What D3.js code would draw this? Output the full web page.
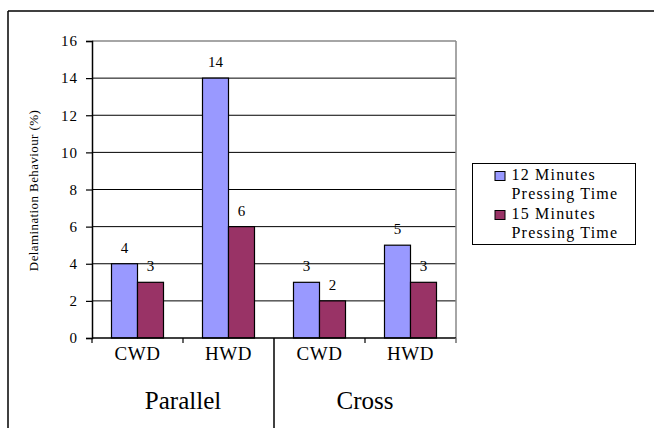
<!DOCTYPE html>
<html>
<head>
<meta charset="utf-8">
<script src="https://cdn.jsdelivr.net/npm/d3@7"></script>
<style>
  body { margin: 0; background: #fff; }
</style>
</head>
<body>
<div id="chart"></div>
<script>
// datos
const groups = ["Parallel", "Cross"]
const woods = ["CWD", "HWD"]
const series = ["12 Minutes Pressing Time", "15 Minutes Pressing Time"]
const values12 = [4, 14, 3, 5]
const values15 = [3, 6, 2, 3]
const yTicks = [0, 2, 4, 6, 8, 10, 12, 14, 16]
const colors = ["#9999FF", "#993366"]

const width = 654
const height = 428
const margin = { top: 41, right: 198, bottom: 90, left: 92 }
const serif = "'Liberation Serif', 'Times New Roman', Times, serif"

const svg = d3.select("#chart").append("svg").attr("width", width).attr("height", height)
  .style("font-family", serif)

// categorias (grupo + madera)
const cats = []
groups.forEach(g => woods.forEach(w => cats.push({ group: g, wood: w, key: g + "-" + w })))
cats.forEach((c, i) => { c.v = [values12[i], values15[i]] })

// escalas
const x0 = d3.scaleBand().domain(cats.map(d => d.key)).range([margin.left, width - margin.right]).padding(0)
const x1 = d3.scaleBand().domain(series).range([0, x0.bandwidth()]).paddingInner(0).paddingOuter(0.75)
const y = d3.scaleLinear().domain([0, 16]).range([height - margin.bottom, margin.top])

const x0r = width - margin.right
const yb = height - margin.bottom

function txt(sel, size) {
  return sel.style("font-family", serif).style("font-size", size + "px").attr("fill", "#000")
}

// marco exterior
svg.append("line").attr("x1", 8).attr("x2", width).attr("y1", 11).attr("y2", 11)
  .attr("stroke", "#000").attr("stroke-width", 1.5)
svg.append("line").attr("x1", 8).attr("x2", 8).attr("y1", 11).attr("y2", height)
  .attr("stroke", "#000").attr("stroke-width", 1.5)

// rejilla
svg.append("g").selectAll("line").data(yTicks.filter(t => t > 0 && t < 16)).join("line")
  .attr("x1", margin.left).attr("x2", x0r)
  .attr("y1", d => y(d)).attr("y2", d => y(d))
  .attr("stroke", "#000").attr("stroke-width", 1)
svg.append("line").attr("x1", margin.left).attr("x2", x0r).attr("y1", y(16)).attr("y2", y(16))
  .attr("stroke", "#888").attr("stroke-width", 1.5)
svg.append("line").attr("x1", x0r).attr("x2", x0r).attr("y1", y(16)).attr("y2", yb + 5)
  .attr("stroke", "#888").attr("stroke-width", 1.5)

// barras
const barG = svg.append("g")
cats.forEach(c => {
  series.forEach((s, j) => {
    barG.append("rect")
      .attr("x", x0(c.key) + x1(s))
      .attr("y", y(c.v[j]))
      .attr("width", x1.bandwidth())
      .attr("height", yb - y(c.v[j]))
      .attr("fill", colors[j])
      .attr("stroke", "#000").attr("stroke-width", 1.2)
    barG.append("text")
      .attr("x", x0(c.key) + x1(s) + x1.bandwidth() / 2)
      .attr("y", y(c.v[j]) - 11)
      .attr("text-anchor", "middle")
      .call(txt, 15)
      .text(c.v[j])
  })
})

// eje y
const yAxis = d3.axisLeft(y).tickValues(yTicks).tickSize(6).tickPadding(8)
const yAxisGroup = svg.append("g").attr("transform", `translate(${margin.left},0)`).call(yAxis)
  .attr("font-family", null).attr("font-size", null)
yAxisGroup.select(".domain").attr("stroke", "#000").attr("stroke-width", 1.5)
yAxisGroup.selectAll(".tick line").attr("stroke", "#000").attr("stroke-width", 1.2)
yAxisGroup.selectAll(".tick text").call(txt, 15).attr("letter-spacing", 1)

// eje x
svg.append("line").attr("x1", margin.left).attr("x2", x0r).attr("y1", yb).attr("y2", yb)
  .attr("stroke", "#000").attr("stroke-width", 1.5)
const bounds = cats.map(c => x0(c.key)).concat([x0r])
svg.append("g").selectAll("line").data(bounds.filter((b, i) => i !== 2)).join("line")
  .attr("x1", d => d).attr("x2", d => d).attr("y1", yb).attr("y2", yb + 5)
  .attr("stroke", (d, i) => i === 3 ? "#888" : "#000").attr("stroke-width", 1.2)

// separador de grupos
svg.append("line").attr("x1", bounds[2]).attr("x2", bounds[2]).attr("y1", yb).attr("y2", height)
  .attr("stroke", "#000").attr("stroke-width", 1.5)

// etiquetas de categoria
svg.append("g").selectAll("text").data(cats).join("text")
  .attr("x", d => x0(d.key) + x0.bandwidth() / 2)
  .attr("y", yb + 22)
  .attr("text-anchor", "middle")
  .call(txt, 19).attr("letter-spacing", 0.5)
  .text(d => d.wood)

// etiquetas de grupo
svg.append("g").selectAll("text").data(groups).join("text")
  .attr("x", g => {
    const ks = cats.filter(c => c.group === g).map(c => c.key)
    return (x0(ks[0]) + x0(ks[ks.length - 1]) + x0.bandwidth()) / 2
  })
  .attr("y", yb + 71)
  .attr("text-anchor", "middle")
  .call(txt, 25)
  .text(g => g)

// titulo eje y
svg.append("text")
  .attr("transform", `translate(38,${(y(0) + y(16)) / 2 + 1}) rotate(-90)`)
  .attr("text-anchor", "middle")
  .call(txt, 13)
  .attr("letter-spacing", 0.4)
  .text("Delamination Behaviour (%)")

// leyenda
const legend = svg.append("g").attr("transform", "translate(472,163)")
legend.append("rect").attr("x", 0.5).attr("y", 0.5).attr("width", 163).attr("height", 81)
  .attr("fill", "#fff").attr("stroke", "#000").attr("stroke-width", 1)
series.forEach((s, j) => {
  const words = s.split(" ")
  const row = legend.append("g").attr("transform", `translate(0,${j * 39})`)
  row.append("rect").attr("x", 23).attr("y", 8.5).attr("width", 10).attr("height", 9)
    .attr("fill", colors[j]).attr("stroke", "#000").attr("stroke-width", 1)
  row.append("text").attr("x", 39.5).attr("y", 17).call(txt, 16).attr("letter-spacing", 1.2)
    .text(words.slice(0, 2).join(" "))
  row.append("text").attr("x", 39.5).attr("y", 35.5).call(txt, 16).attr("letter-spacing", 1.2)
    .text(words.slice(2).join(" "))
})
</script>
</body>
</html>
